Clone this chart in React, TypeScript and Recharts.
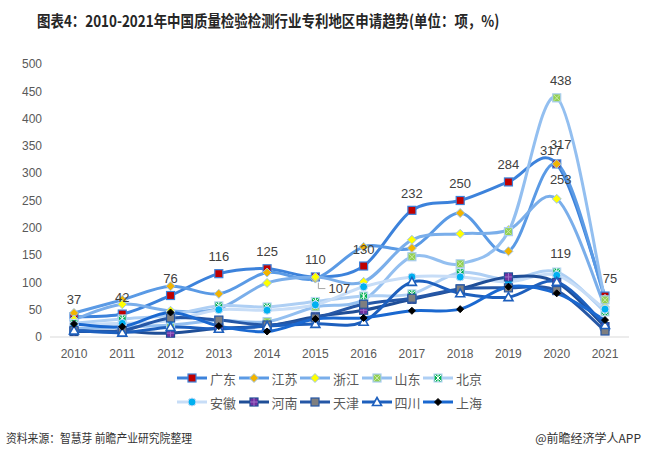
import React from 'react';
import { LineChart, Line, XAxis, YAxis } from 'recharts';

const years = ['2010', '2011', '2012', '2013', '2014', '2015', '2016', '2017', '2018', '2019', '2020', '2021'];
const guangdong = [37, 42, 76, 116, 125, 110, 130, 232, 250, 284, 317, 75];
const jiangsu = [44, 68, 93, 79, 118, 107, 165, 163, 227, 157, 317, 70];
const zhejiang = [32, 60, 48, 52, 99, 110, 101, 178, 189, 196, 253, 55];
const shandong = [15, 18, 22, 30, 28, 55, 68, 147, 134, 193, 438, 68];
const beijing = [25, 33, 40, 57, 55, 65, 75, 79, 118, 105, 119, 46];
const anhui = [22, 25, 30, 50, 49, 59, 92, 110, 110, 101, 113, 51];
const henan = [10, 10, 7, 16, 20, 37, 49, 69, 88, 110, 100, 19];
const tianjin = [12, 12, 35, 31, 22, 35, 60, 71, 88, 90, 85, 11];
const sichuan = [12, 8, 18, 15, 20, 24, 28, 101, 80, 73, 101, 22];
const shanghai = [24, 19, 45, 20, 10, 33, 35, 48, 51, 92, 80, 31];
const yTicks = [0, 50, 100, 150, 200, 250, 300, 350, 400, 450, 500];

const series = [
  { key: 'gd', name: '广东', values: guangdong, color: '#3c82db', marker: 'sqRed' },
  { key: 'js', name: '江苏', values: jiangsu, color: '#5a9ae5', marker: 'diaOrange' },
  { key: 'zj', name: '浙江', values: zhejiang, color: '#7aaeea', marker: 'diaYellow' },
  { key: 'sd', name: '山东', values: shandong, color: '#93bff0', marker: 'sqGreen' },
  { key: 'bj', name: '北京', values: beijing, color: '#aecff4', marker: 'starGreen' },
  { key: 'ah', name: '安徽', values: anhui, color: '#c7ddf7', marker: 'dotCyan' },
  { key: 'hn', name: '河南', values: henan, color: '#1f4e97', marker: 'sqPurple' },
  { key: 'tj', name: '天津', values: tianjin, color: '#2557a6', marker: 'sqGray' },
  { key: 'sc', name: '四川', values: sichuan, color: '#1d5fbd', marker: 'tri' },
  { key: 'sh', name: '上海', values: shanghai, color: '#1a68d0', marker: 'diaBlack' },
];

const data = years.map((year, i) => {
  const row: any = { year };
  series.forEach((s) => { row[s.key] = s.values[i]; });
  return row;
});

// which points carry a data label, with small nudges like the original
const labelSpots: Record<string, { i: number; dx: number; dy: number; lead?: boolean }[]> = {
  gd: [
    ...years.slice(0, 10).map((_, i) => ({ i, dx: 0, dy: -17 })),
    { i: 10, dx: -6, dy: -13 },
    { i: 11, dx: 5, dy: -18 },
  ],
  js: [{ i: 5, dx: 24, dy: 10, lead: true }, { i: 10, dx: 4, dy: -19 }],
  zj: [{ i: 10, dx: 4, dy: -19 }],
  sd: [{ i: 10, dx: 4, dy: -17 }],
  bj: [{ i: 10, dx: 4, dy: -19 }],
};

// Excel-like smoothed line (Catmull-Rom through the points)
const smooth = (context: any) => {
  let pts: number[][] = [];
  return {
    areaStart() {},
    areaEnd() {},
    lineStart() { pts = []; },
    point(x: number, y: number) { pts.push([+x, +y]); },
    lineEnd() {
      if (!pts.length) return;
      context.moveTo(pts[0][0], pts[0][1]);
      const k = 1 / 6;
      for (let i = 0; i < pts.length - 1; i++) {
        const p0 = pts[i - 1] || pts[i];
        const p1 = pts[i];
        const p2 = pts[i + 1];
        const p3 = pts[i + 2] || p2;
        context.bezierCurveTo(
          p1[0] + (p2[0] - p0[0]) * k, p1[1] + (p2[1] - p0[1]) * k,
          p2[0] - (p3[0] - p1[0]) * k, p2[1] - (p3[1] - p1[1]) * k,
          p2[0], p2[1],
        );
      }
    },
  };
};

const Marker = ({ kind, x, y, line }: { kind: string; x: number; y: number; line: string }) => {
  const sq = (fill: string, stroke: string, extra?: React.ReactNode) => (
    <g>
      <rect x={x - 4} y={y - 4} width={8} height={8} fill={fill} stroke={stroke} strokeWidth={1.2} />
      {extra}
    </g>
  );
  const dia = (r: number, fill: string, stroke: string) => (
    <polygon points={`${x},${y - r} ${x + r},${y} ${x},${y + r} ${x - r},${y}`} fill={fill} stroke={stroke} strokeWidth={1} />
  );
  switch (kind) {
    case 'sqRed':
      return sq('#c00000', '#3c82db');
    case 'diaOrange':
      return dia(4.5, '#f2b400', '#9cc3ee');
    case 'diaYellow':
      return dia(4.5, '#ffff00', '#9cc3ee');
    case 'sqGreen':
      return sq('#92d050', '#a9cdf2',
        <path d={`M${x - 3},${y - 3}L${x + 3},${y + 3}M${x + 3},${y - 3}L${x - 3},${y + 3}`} stroke="#c8e6a8" strokeWidth={1} />);
    case 'starGreen':
      return sq('#00b050', '#bcd8f5',
        <path d={`M${x - 3},${y - 3}L${x + 3},${y + 3}M${x + 3},${y - 3}L${x - 3},${y + 3}M${x},${y - 4}L${x},${y + 4}`} stroke="#ffffff" strokeWidth={1} />);
    case 'dotCyan':
      return <circle cx={x} cy={y} r={4} fill="#00b0f0" stroke="#c7ddf7" strokeWidth={1} />;
    case 'sqPurple':
      return sq('#7030a0', '#1f4e97',
        <path d={`M${x},${y - 4}L${x},${y + 4}M${x - 4},${y}L${x + 4},${y}`} stroke="#a070c8" strokeWidth={1} />);
    case 'sqGray':
      return sq('#7f7f7f', '#2557a6');
    case 'tri':
      return <polygon points={`${x},${y - 4.5} ${x + 4.5},${y + 3.5} ${x - 4.5},${y + 3.5}`} fill="#ffffff" stroke={line} strokeWidth={1.6} />;
    case 'diaBlack':
      return dia(3.5, '#000000', '#000000');
    default:
      return null;
  }
};

const makeDot = (kind: string, color: string) => (props: any) => {
  const { cx, cy, index } = props;
  if (cx == null || cy == null) return <g key={index} />;
  return <Marker key={index} kind={kind} x={cx} y={cy} line={color} />;
};

const makeLabel = (key: string) => (props: any) => {
  const { x, y, index, value } = props;
  const spot = (labelSpots[key] || []).find((s) => s.i === index);
  if (!spot || x == null) return <g key={index} />;
  return (
    <g key={index}>
      {spot.lead && (
        <polyline
          points={`${x + 3},${y + 4} ${x + 3},${y + 10} ${x + 10},${y + 10}`}
          fill="none"
          stroke="#a6a6a6"
          strokeWidth={1}
        />
      )}
      <text
        x={x + spot.dx}
        y={y + spot.dy}
        textAnchor="middle"
        dominantBaseline="central"
        fontSize={13}
        fill="#404040"
        fontFamily="'Liberation Sans', Arial, sans-serif"
      >
        {value}
      </text>
    </g>
  );
};

const legendCols = [177, 238.5, 300, 361.5, 423];

const App = () => (
  <div
    style={{
      position: 'absolute',
      left: 0,
      top: 0,
      width: 646,
      height: 458,
      background: '#ffffff',
      fontFamily: "'Noto Sans CJK SC', 'Liberation Sans', sans-serif",
    }}
  >
    <div
      style={{
        position: 'absolute',
        left: 37,
        top: 9,
        fontSize: 16,
        fontWeight: 'bold',
        color: '#262626',
        whiteSpace: 'nowrap',
        transform: 'scaleX(0.84)',
        transformOrigin: 'left center',
        lineHeight: '22px',
      }}
    >
      图表4：2010-2021年中国质量检验检测行业专利地区申请趋势(单位：项，%)
    </div>

    <div style={{ position: 'absolute', left: 0, top: 0 }}>
      <LineChart width={646} height={370} data={data} margin={{ top: 64, right: 17, left: 0, bottom: 3 }}>
        <XAxis
          dataKey="year"
          padding={{ left: 24, right: 24 }}
          axisLine={{ stroke: '#d9d9d9' }}
          tickLine={false}
          tickMargin={6}
          tick={{ fontSize: 12, fill: '#595959', fontFamily: "'Liberation Sans', Arial, sans-serif" }}
        />
        <YAxis
          domain={[0, 500]}
          ticks={yTicks}
          width={50}
          axisLine={false}
          tickLine={false}
          tick={{ fontSize: 12, fill: '#595959', fontFamily: "'Liberation Sans', Arial, sans-serif" }}
        />
        {series.map((s) => (
          <Line
            key={s.key}
            dataKey={s.key}
            name={s.name}
            type={smooth as any}
            stroke={s.color}
            strokeWidth={3}
            dot={makeDot(s.marker, s.color)}
            activeDot={false}
            label={makeLabel(s.key)}
            isAnimationActive={false}
          />
        ))}
      </LineChart>
    </div>

    {series.map((s, i) => {
      const left = legendCols[i % 5];
      const top = i < 5 ? 378 : 402;
      return (
        <div key={s.key} style={{ position: 'absolute', left, top: top - 9, height: 18, display: 'flex', alignItems: 'center' }}>
          <svg width={30} height={12}>
            <line x1={0} y1={6} x2={30} y2={6} stroke={s.color} strokeWidth={3} />
            <Marker kind={s.marker} x={15} y={6} line={s.color} />
          </svg>
          <span style={{ marginLeft: 3, fontSize: 13, color: '#595959', whiteSpace: 'nowrap' }}>{s.name}</span>
        </div>
      );
    })}

    <div style={{ position: 'absolute', left: 6, top: 429, fontSize: 12, color: '#333333', whiteSpace: 'nowrap', transform: 'scaleX(0.9)', transformOrigin: 'left center' }}>
      资料来源：智慧芽 前瞻产业研究院整理
    </div>
    <div style={{ position: 'absolute', right: 5, top: 429, fontSize: 12, color: '#333333', whiteSpace: 'nowrap' }}>
      @前瞻经济学人APP
    </div>
  </div>
);

export default App;
